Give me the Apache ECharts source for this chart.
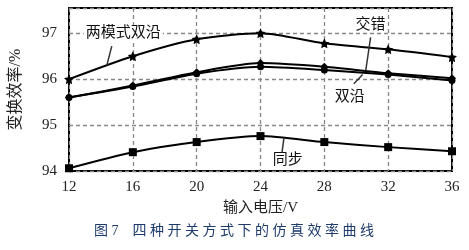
<!DOCTYPE html>
<html>
<head>
<meta charset="utf-8">
<script src="https://cdn.jsdelivr.net/npm/echarts@6/dist/echarts.min.js"></script>
<style>
  html, body { margin: 0; padding: 0; background: #fff; }
  #chart { width: 469px; height: 250px; }
</style>
</head>
<body>
<div id="chart"></div>
<script>
// input voltage (V)
var voltages = [12, 16, 20, 24, 28, 32, 36];
// efficiency (%) per switching mode
var dualModeEdge = [96.0, 96.5, 96.87, 97.0, 96.78, 96.65, 96.48];
var interleaved = [95.6, 95.86, 96.15, 96.35, 96.27, 96.13, 96.02];
var dualEdge = [95.6, 95.84, 96.12, 96.27, 96.2, 96.1, 95.97];
var syncRect = [94.06, 94.41, 94.63, 94.76, 94.63, 94.52, 94.43];
var yTicks = [94, 95, 96, 97];

var serif = '"Liberation Serif", "DejaVu Serif", "Noto Sans CJK SC", serif';
var chart = echarts.init(document.getElementById('chart'));

function line(name, data, symbol, size) {
  return {
    name: name,
    type: 'line',
    smooth: 0.25,
    data: voltages.map(function (v, i) { return [v, data[i]]; }),
    symbol: symbol,
    symbolSize: size,
    itemStyle: { color: '#000' },
    lineStyle: { color: '#000', width: 2 }
  };
}

var option = {
  animation: false,
  grid: { left: 67, right: 17, top: 8, bottom: 79, show: true, borderColor: '#000', borderWidth: 2 },
  xAxis: {
    type: 'value', min: 12, max: 36, interval: 4,
    name: '输入电压/V', nameLocation: 'middle', nameGap: 30,
    nameTextStyle: { fontFamily: serif, fontSize: 15, color: '#222' },
    axisLine: { show: false }, axisTick: { show: false },
    axisLabel: { fontFamily: serif, fontSize: 15, color: '#222', margin: 9 },
    splitLine: { show: true, lineStyle: { color: '#888', type: [4, 3], width: 1.3 } }
  },
  yAxis: {
    type: 'value', min: 94, max: 97.55, interval: 1,
    name: '变换效率/%', nameLocation: 'middle', nameGap: 45,
    nameTextStyle: { fontFamily: serif, fontSize: 16, color: '#222' },
    axisLine: { show: false }, axisTick: { show: false },
    axisLabel: {
      fontFamily: serif, fontSize: 15, color: '#222', margin: 12,
      formatter: function (v) { return yTicks.indexOf(v) >= 0 ? v : ''; }
    },
    splitLine: { show: true, lineStyle: { color: '#888', type: [4, 3], width: 1.3 } }
  },
  series: [
    line('两模式双沿', dualModeEdge, 'path://M0,-10L2.9,-4L9.5,-3.1L4.7,1.5L5.9,8.1L0,5L-5.9,8.1L-4.7,1.5L-9.5,-3.1L-2.9,-4Z', 10),
    line('交错', interleaved, 'diamond', 8),
    line('双沿', dualEdge, 'circle', 7),
    line('同步', syncRect, 'rect', 8)
  ]
};
chart.setOption(option);

// callout labels, anchored in data space
function px(x, y) { return chart.convertToPixel({ gridIndex: 0 }, [x, y]); }
var textStyle = { fontFamily: serif, fontSize: 15, fill: '#111' };
var els = [];
function seg(from, to) {
  var a = px(from[0], from[1]), b = px(to[0], to[1]);
  els.push({ type: 'line', shape: { x1: a[0], y1: a[1], x2: b[0], y2: b[1] }, style: { stroke: '#333', lineWidth: 1.5 }, z: 10 });
}
function label(text, tx, ty, bg) {
  var p = px(tx, ty);
  els.push({ type: 'text', x: p[0], y: p[1], style: Object.assign({ text: text, align: 'center', verticalAlign: 'middle', backgroundColor: bg ? '#fff' : null, padding: [0, 2] }, textStyle), z: 11 });
}
label('两模式双沿', 15.4, 97.0, true);
seg([14.68, 96.72], [14.37, 96.3]);
label('交错', 30.9, 97.17, false);
seg([30.9, 96.91], [30.6, 96.2]);
seg([30.4, 96.1], [29.85, 95.9]);
label('双沿', 29.6, 95.62, false);
label('同步', 25.7, 94.24, false);
seg([25.47, 94.72], [25.35, 94.41]);

els.push({
  type: 'text', x: 234, y: 231,
  style: { text: '图 7    四 种 开 关 方 式 下 的 仿 真 效 率 曲 线', align: 'center', verticalAlign: 'middle',
    fontFamily: serif, fontSize: 14, fill: '#1d3b6b' }
});
chart.setOption({ graphic: els });
</script>
</body>
</html>
